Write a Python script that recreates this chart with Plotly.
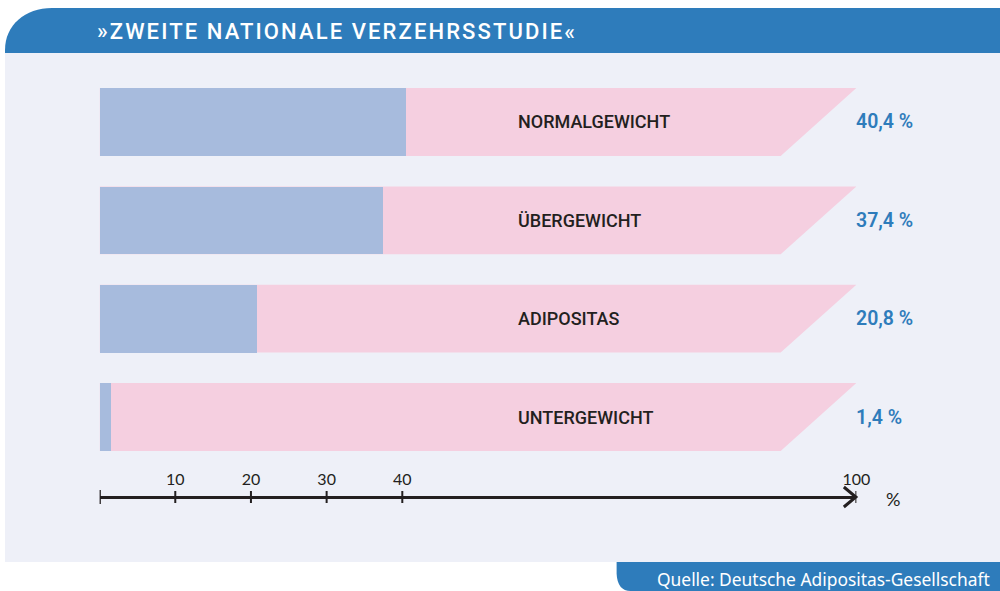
import plotly.graph_objects as go

# ---- data ----
categories = ["NORMALGEWICHT", "ÜBERGEWICHT", "ADIPOSITAS", "UNTERGEWICHT"]
values = [40.4, 37.4, 20.8, 1.4]
tick_values = [10, 20, 30, 40, 100]
tick_labels = ["10", "20", "30", "40", "100"]
title_text = "»ZWEITE NATIONALE VERZEHRSSTUDIE«"
source_text = "Quelle: Deutsche Adipositas-Gesellschaft"

# ---- style ----
W, H = 1000, 591          # reference picture size (coordinate frame)
FIG_W = 1015              # page width actually captured
BLUE_HEAD = "#2e7cbb"
PANEL = "#eef0f8"
BAR_BLUE = "#a7bbdd"
PINK = "#f5cfe0"
DARK = "#231f20"
BAR_H = 0.69
SLANT = 10
FULL = 100
AXIS_Y = 497  # pixel row of the axis line


def px(x):
    return x / W


def py(y):
    return 1 - y / H


idx = list(range(len(categories)))

fig = go.Figure()
fig.add_trace(go.Bar(
    y=idx, x=values, base=0, orientation="h", width=BAR_H,
    marker=dict(color=BAR_BLUE, line=dict(width=0)),
    hoverinfo="skip", showlegend=False,
))

shapes = []
# panel background
shapes.append(dict(type="rect", xref="paper", yref="paper",
                   x0=px(5), x1=px(1000), y0=py(562), y1=py(53),
                   fillcolor=PANEL, line=dict(width=0), layer="below"))
# header band with rounded top-left corner
hp = (f"M {px(5)},{py(53)} L {px(5)},{py(50)} "
      f"C {px(5)},{py(25)} {px(25)},{py(8)} {px(52)},{py(8)} "
      f"L {px(1000)},{py(8)} L {px(1000)},{py(53)} Z")
shapes.append(dict(type="path", xref="paper", yref="paper", path=hp,
                   fillcolor=BLUE_HEAD, line=dict(width=0), layer="below"))
# footer band
fp = (f"M {px(616)},{py(562)} L {px(1000)},{py(562)} L {px(1000)},{py(591)} "
      f"L {px(630)},{py(591)} Q {px(617)},{py(591)} {px(616)},{py(574)} Z")
shapes.append(dict(type="path", xref="paper", yref="paper", path=fp,
                   fillcolor=BLUE_HEAD, line=dict(width=0), layer="below"))

# pink slanted background bars
for i in idx:
    t = i - BAR_H / 2
    b = i + BAR_H / 2
    shapes.append(dict(type="path", xref="x", yref="y",
                       path=f"M 0,{t} L {FULL},{t} L {FULL - SLANT},{b} L 0,{b} Z",
                       fillcolor=PINK, line=dict(width=0), layer="below"))

# axis tick marks (crossing the line)
for v in [0] + tick_values[:-1]:
    ext = 7 if v == 0 else 6
    shapes.append(dict(type="line", xref="x", yref="paper",
                       x0=v, x1=v, y0=py(AXIS_Y - ext), y1=py(AXIS_Y + ext),
                       line=dict(color=DARK, width=2.5 if v == 0 else 2)))
# end tick + arrow head
shapes.append(dict(type="line", xref="x", yref="paper",
                   x0=FULL, x1=FULL, y0=py(AXIS_Y - 6), y1=py(AXIS_Y + 6),
                   line=dict(color=DARK, width=2)))
shapes.append(dict(type="path", xref="paper", yref="paper",
                   path=f"M {px(843)},{py(AXIS_Y - 10)} L {px(855)},{py(AXIS_Y)} L {px(843)},{py(AXIS_Y + 10)}",
                   line=dict(color=DARK, width=3)))

annotations = []
annotations.append(dict(text=f'<span style="letter-spacing:2.1px">{title_text}</span>',
                        x=px(95), y=py(31), xref="paper", yref="paper",
                        xanchor="left", yanchor="middle", showarrow=False,
                        font=dict(family="Roboto", size=22, color="white", weight=500)))
annotations.append(dict(text=source_text, x=px(991), y=py(579), xref="paper", yref="paper",
                        xanchor="right", yanchor="middle", showarrow=False,
                        font=dict(family="Noto Sans", size=17.4, color="white")))
annotations.append(dict(text="%", x=px(892), y=py(499), xref="paper", yref="paper",
                        xanchor="center", yanchor="middle", showarrow=False,
                        font=dict(family="Lato", size=18, color=DARK)))
for i, (c, v) in enumerate(zip(categories, values)):
    annotations.append(dict(text=c, x=55.0, y=i, xref="x", yref="y",
                            xanchor="left", yanchor="middle", showarrow=False,
                            font=dict(family="Roboto", size=18, color=DARK, weight=500)))
    annotations.append(dict(text=f"{v:.1f}".replace(".", ",") + " %", x=FULL, y=i,
                            xref="x", yref="y", xanchor="left", yanchor="middle",
                            showarrow=False, xshift=-2,
                            font=dict(family="Roboto", size=19.5, color=BLUE_HEAD, weight=600)))

fig.update_layout(
    width=FIG_W, height=H,
    autosize=False,
    margin=dict(l=0, r=0, t=0, b=0),
    paper_bgcolor="white",
    plot_bgcolor="rgba(0,0,0,0)",
    shapes=shapes,
    annotations=annotations,
    bargap=0,
    xaxis=dict(domain=[0.0995, 0.8555], range=[0, FULL], anchor="free",
               position=py(AXIS_Y), side="top",
               showgrid=False, zeroline=False, showline=True,
               linecolor=DARK, linewidth=3,
               tickmode="array", tickvals=tick_values, ticktext=tick_labels,
               ticks="", ticklabelstandoff=5,
               tickfont=dict(family="Lato", size=16, color=DARK),
               fixedrange=True),
    yaxis=dict(domain=[0.2112, 0.8768], range=[3.5, -0.5], visible=False,
               fixedrange=True),
)

fig.write_html("out.html",
               config={"displayModeBar": False, "responsive": False},
               post_script="document.body.style.margin='0';document.body.style.overflow='hidden';")
